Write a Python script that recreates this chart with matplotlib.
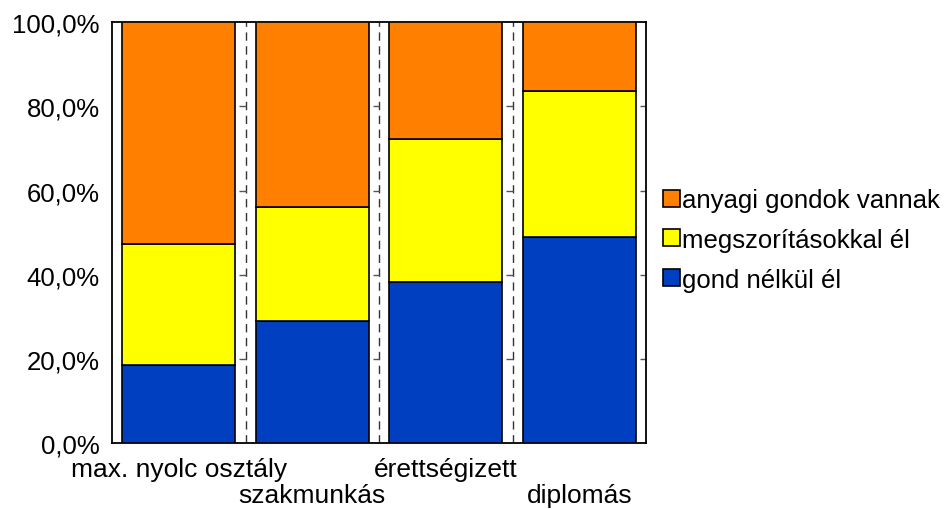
import matplotlib
matplotlib.use('Agg')
import matplotlib.pyplot as plt
import numpy as np
from matplotlib.ticker import FuncFormatter

plt.rcParams['font.family'] = ['Liberation Sans', 'DejaVu Sans']

# adatok
categories = ['max. nyolc osztály', 'szakmunkás', 'érettségizett', 'diplomás']
gond_nelkul = [18.6, 28.9, 38.3, 49.0]
megszoritas = [28.6, 27.3, 34.0, 34.7]
anyagi_gond = [52.8, 43.8, 27.7, 16.3]
series_labels = ['gond nélkül él', 'megszorításokkal él', 'anyagi gondok vannak']
colors = ['#0040C0', '#FFFF00', '#FF8000']

fig = plt.figure(figsize=(9.44, 5.10), dpi=100)
ax = fig.add_axes([112 / 944, 66 / 510, 534 / 944, 420.7 / 510])

x = np.arange(len(categories))
bottom = np.zeros(len(categories))
handles = []
for vals, lab, col in zip([gond_nelkul, megszoritas, anyagi_gond], series_labels, colors):
    b = ax.bar(x, vals, width=0.85, bottom=bottom, color=col, edgecolor='black',
               linewidth=1.2, label=lab, zorder=3)
    handles.append(b)
    bottom += np.array(vals)

ax.set_xlim(-0.5, len(categories) - 0.5)
ax.set_ylim(0, 100)

# szaggatott elválasztó vonalak a kategóriák között
yticks = np.arange(0, 101, 20)
for bx in x[:-1] + 0.5:
    ax.axvline(bx, color='#333333', linestyle=(0, (6, 4)), linewidth=1.0, zorder=1)
    ax.hlines(yticks[1:-1], bx - 0.045, bx, color='#555555', linewidth=1.0, zorder=1)
ax.hlines(yticks[1:-1], len(categories) - 0.5 - 0.045, len(categories) - 0.5,
          color='#555555', linewidth=1.0, zorder=1)

ax.set_yticks(yticks)
ax.yaxis.set_major_formatter(FuncFormatter(lambda v, p: f'{v:.1f}%'.replace('.', ',')))

# lépcsőzetes kategóriafeliratok: páros sor fent, páratlan lent
ax.set_xticks(x[::2])
ax.set_xticklabels(categories[::2])
ax.set_xticks(x[1::2], minor=True)
ax.set_xticklabels(categories[1::2], minor=True)
ax.tick_params(axis='y', length=0, pad=9, labelsize=18.5)
ax.tick_params(axis='x', which='major', length=0, pad=10, labelsize=19)
ax.tick_params(axis='x', which='minor', length=0, pad=29, labelsize=19)

for s in ax.spines.values():
    s.set_linewidth(1.3)
    s.set_color('black')

leg = fig.legend(handles[::-1], series_labels[::-1], loc='center left',
                 bbox_to_anchor=(653 / 944, 1 - 241 / 510), frameon=False,
                 fontsize=18.5, handlelength=0.64, handleheight=0.64,
                 handletextpad=0.08, labelspacing=0.62, borderaxespad=0)

fig.savefig('out.png', dpi=100)
